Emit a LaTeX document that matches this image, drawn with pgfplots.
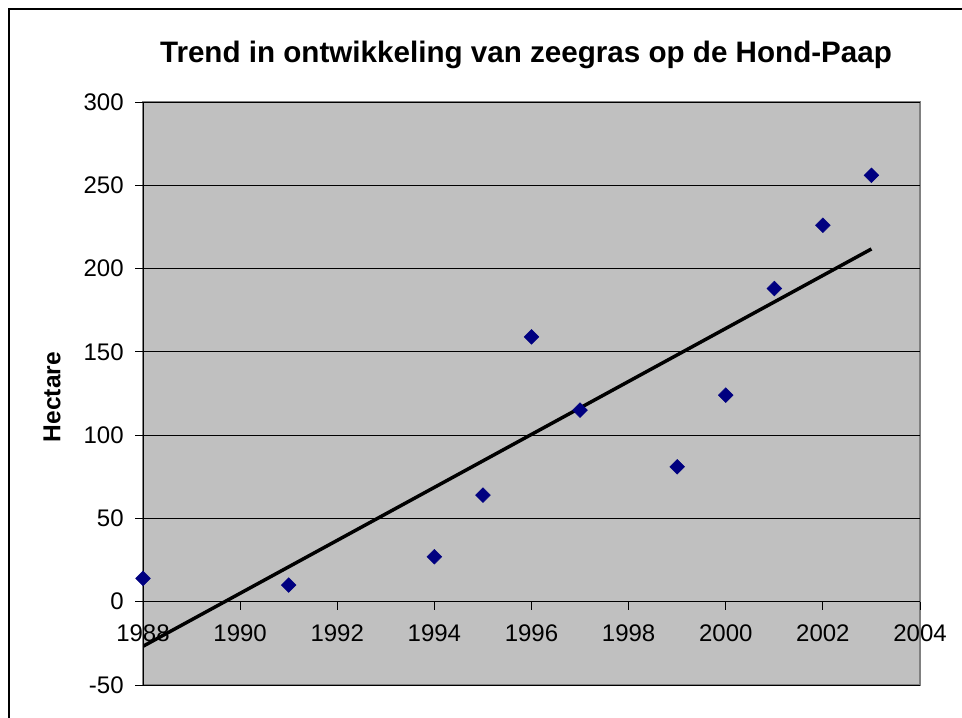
\documentclass[border=0pt]{standalone}
\usepackage{pgfplots}
\usepackage{pgfplotstable}
\usepackage{fontspec}
\setmainfont{Liberation Sans}
\pgfplotsset{compat=1.18}
\definecolor{plotgray}{RGB}{192,192,192}
\definecolor{bordergray}{RGB}{128,128,128}
\definecolor{navymark}{RGB}{0,0,128}

% zeegras op de Hond-Paap (hectare); t = jaren sinds 1988
\pgfplotstableread{
jaar t ha
1988 0 14
1991 3 10
1994 6 27
1995 7 64
1996 8 159
1997 9 115
1999 11 81
2000 12 124
2001 13 188
2002 14 226
2003 15 256
}\zeegras

\begin{document}
\begin{tikzpicture}[x=0.75pt,y=0.75pt]
\useasboundingbox (0,0) rectangle (962,717);
\fill[white] (0,0) rectangle (962,717);
\draw[black, line width=0.9pt] (9,-5) -- (9,708) -- (970,708);
\node[font=\bfseries\fontsize{22.2}{26}\selectfont] at (526,662) {Trend in ontwikkeling van zeegras op de Hond-Paap};
\node[font=\bfseries\fontsize{18.4}{22}\selectfont, rotate=90] at (52,320) {Hectare};
\begin{axis}[
    at={(107.25pt,24pt)}, anchor=south west,
    scale only axis,
    width=582.75pt, height=437.25pt,
    xmin=1988, xmax=2004,
    ymin=-50, ymax=300,
    xtick={1988,1990,...,2004},
    ytick={-50,0,...,300},
    axis x line*=middle,
    axis y line*=left,
    hide obscured x ticks=false,
    axis line style={black, line width=0.6pt, -},
    tick align=outside,
    major tick length=6pt,
    tick style={black, line width=0.6pt},
    ymajorgrids,
    grid style={black, line width=0.6pt},
    axis background/.style={fill=plotgray, draw=bordergray, line width=0.9pt},
    tick label style={font=\fontsize{18}{22}\selectfont},
    /pgf/number format/assume math mode=true,
    /pgf/number format/1000 sep={},
    xticklabel style={yshift=-8pt},
    yticklabel style={xshift=-5pt},
    clip=true,
]
\addplot[only marks, mark=square*, mark size=3.9pt,
    mark options={rotate=45, fill=navymark, draw=navymark}]
    table[x=jaar, y=ha] {\zeegras};
\addplot[black, line width=2.6pt, no marks]
    table[x=jaar, y={create col/linear regression={x=t, y=ha}}] {\zeegras};
\end{axis}
\end{tikzpicture}
\end{document}
